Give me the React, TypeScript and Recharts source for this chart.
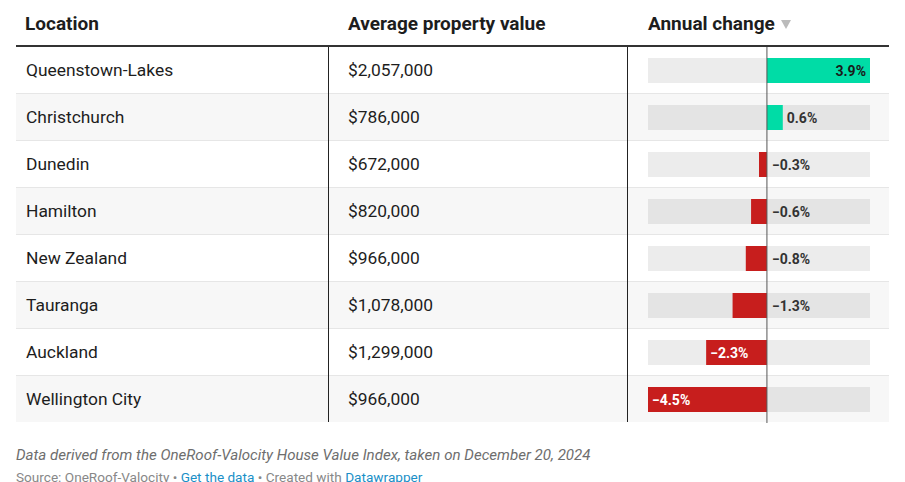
import { BarChart, Bar, Cell, XAxis, YAxis, ReferenceLine, LabelList } from 'recharts';

const locations = ['Queenstown-Lakes', 'Christchurch', 'Dunedin', 'Hamilton', 'New Zealand', 'Tauranga', 'Auckland', 'Wellington City'];
const propertyValues = [2057000, 786000, 672000, 820000, 966000, 1078000, 1299000, 966000];
const annualChange = [3.9, 0.6, -0.3, -0.6, -0.8, -1.3, -2.3, -4.5];

const GREEN = '#00dca6';
const RED = '#c71e1d';
const FONT = 'Roboto, "Noto Sans", sans-serif';
const ROW_H = 47;
const TOP = 47;

const data = locations.map((location, i) => ({ location, value: propertyValues[i], change: annualChange[i] }));

const fmtPct = (v: number) => (v < 0 ? '\u2212' : '') + Math.abs(v).toFixed(1) + '%';

function ChangeLabel(props: any) {
  const { x, y, width, height, value } = props;
  const left = Math.min(x, x + width);
  const right = Math.max(x, x + width);
  const w = right - left;
  const cy = y + height / 2;
  const style = { fontFamily: FONT, fontSize: 14, fontWeight: 700 };
  if (value >= 0) {
    if (w > 45) {
      return <text x={right - 4} y={cy} dy="0.36em" textAnchor="end" fill="#1a1a1a" style={style}>{fmtPct(value)}</text>;
    }
    return <text x={right + 4} y={cy} dy="0.36em" textAnchor="start" fill="#333" style={style}>{fmtPct(value)}</text>;
  }
  if (w > 45) {
    return <text x={left + 4} y={cy} dy="0.36em" textAnchor="start" fill="#fff" style={style}>{fmtPct(value)}</text>;
  }
  return <text x={right + 5} y={cy} dy="0.36em" textAnchor="start" fill="#333" style={style}>{fmtPct(value)}</text>;
}

export default function App() {
  const headerStyle = { position: 'absolute' as const, top: 12, fontSize: 19, fontWeight: 700, color: '#1d1d1d', whiteSpace: 'nowrap' as const };
  return (
    <div style={{ position: 'absolute', left: 0, top: 0, width: 905, height: 482, background: '#fff', fontFamily: FONT, overflow: 'hidden' }}>
      <div style={{ ...headerStyle, left: 25 }}>Location</div>
      <div style={{ ...headerStyle, left: 348 }}>Average property value</div>
      <div style={{ ...headerStyle, left: 648 }}>
        Annual change
        <svg width={10} height={10} style={{ marginLeft: 6, verticalAlign: 'middle', position: 'relative', top: -1 }}>
          <polygon points="0,1 10,1 5,10" fill="#bbb" />
        </svg>
      </div>
      <div style={{ position: 'absolute', left: 16, top: 45, width: 873, height: 2, background: '#333' }} />

      {data.map((d, i) => (
        <div
          key={d.location}
          style={{
            position: 'absolute',
            left: 16,
            top: TOP + i * ROW_H,
            width: 873,
            height: ROW_H - 1,
            background: i % 2 === 1 ? '#f7f7f7' : '#fff',
            borderBottom: i < data.length - 1 ? '1px solid #e6e6e6' : 'none',
            fontSize: 17.4,
            color: '#1d1d1d',
          }}
        >
          <div style={{ position: 'absolute', left: 10, top: 0, lineHeight: `${ROW_H - 1}px` }}>{d.location}</div>
          <div style={{ position: 'absolute', left: 332, top: 0, lineHeight: `${ROW_H - 1}px` }}>
            ${d.value.toLocaleString('en-US')}
          </div>
        </div>
      ))}

      <div style={{ position: 'absolute', left: 328, top: 47, width: 1, height: 375, background: '#222' }} />
      <div style={{ position: 'absolute', left: 627, top: 47, width: 1, height: 375, background: '#222' }} />

      <div style={{ position: 'absolute', left: 628, top: TOP }}>
        <BarChart
          width={261}
          height={ROW_H * 8}
          data={data}
          layout="vertical"
          margin={{ top: 0, right: 19, bottom: 0, left: 20 }}
        >
          <XAxis type="number" domain={[-4.5, 3.9]} hide />
          <YAxis type="category" dataKey="location" hide />
          <Bar dataKey="change" barSize={25} isAnimationActive={false} background={{ fill: 'rgba(0,0,0,0.075)' }}>
            {data.map((d) => (
              <Cell key={d.location} fill={d.change >= 0 ? GREEN : RED} />
            ))}
            <LabelList dataKey="change" content={ChangeLabel} />
          </Bar>
          <ReferenceLine x={0} stroke="#555" strokeWidth={1} />
        </BarChart>
      </div>

      <div style={{ position: 'absolute', left: 16, top: 446, fontSize: 15.1, fontStyle: 'italic', color: '#6e6e6e', whiteSpace: 'nowrap' }}>
        Data derived from the OneRoof-Valocity House Value Index, taken on December 20, 2024
      </div>
      <div style={{ position: 'absolute', left: 16, top: 469, fontSize: 13.6, color: '#888', whiteSpace: 'nowrap' }}>
        Source: OneRoof-Valocity • <span style={{ color: '#1a8fc7' }}>Get the data</span> • Created with{' '}
        <span style={{ color: '#1a8fc7' }}>Datawrapper</span>
      </div>
    </div>
  );
}
